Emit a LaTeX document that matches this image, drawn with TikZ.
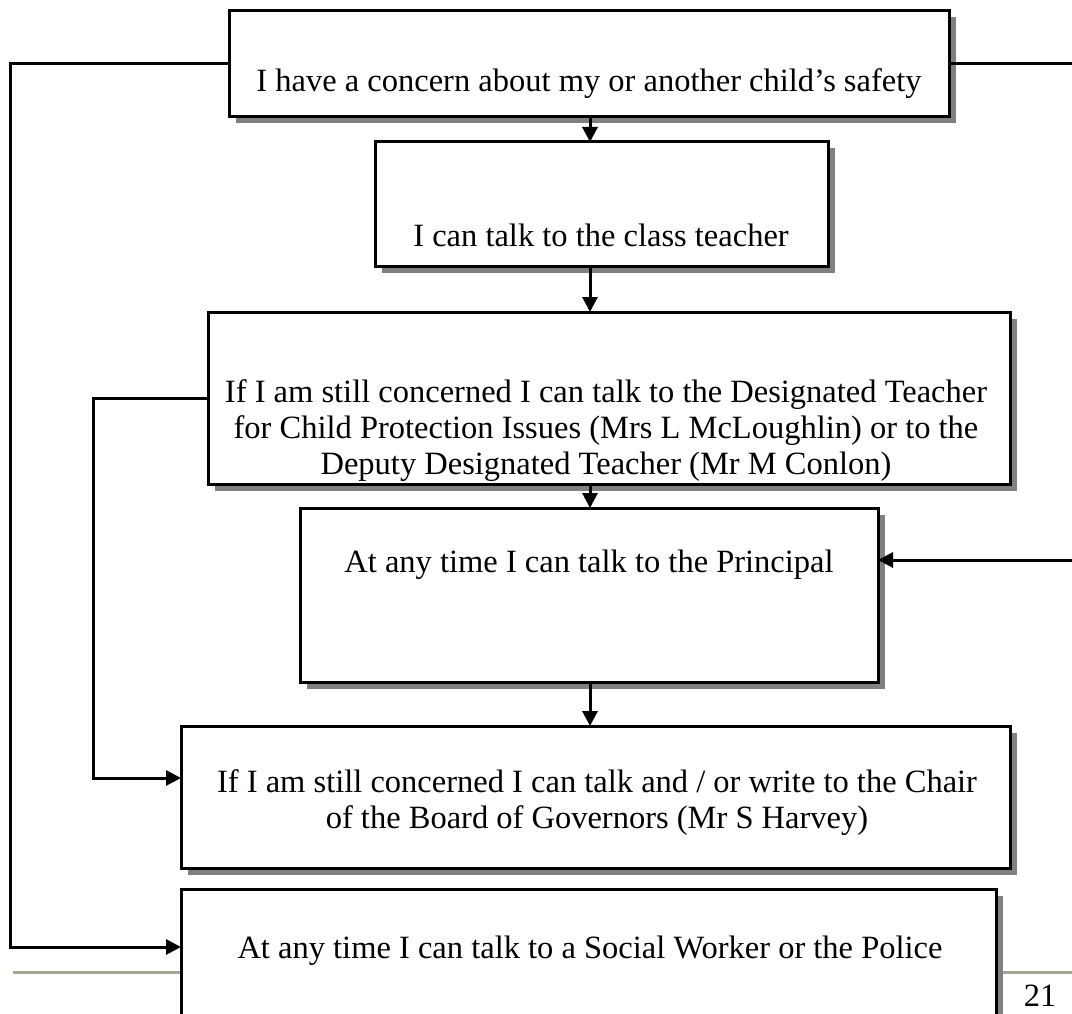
\documentclass[tikz,border=0pt]{standalone}
\usepackage{fontspec}
\setmainfont{Liberation Serif}
\usetikzlibrary{arrows.meta,shadows}
\definecolor{footer}{RGB}{166,166,150}
\definecolor{shade}{RGB}{128,128,128}
\begin{document}
\begin{tikzpicture}[x=1pt,y=-1pt,
  box/.style={draw, fill=white, line width=3pt, rectangle, inner sep=0pt, outer sep=0pt, anchor=north west,
    general shadow={fill=shade, shadow xshift=6.5pt, shadow yshift=-6.5pt}},
  txt/.style={font=\fontsize{32.5}{36}\selectfont, align=center, inner sep=0pt},
  conn/.style={line width=3pt},
  arr/.style={conn, -{Triangle[length=15pt,width=15pt]}}]
\useasboundingbox (0,0) rectangle (1072,1014);
\clip (0,0) rectangle (1072,1014);
% footer rule
\draw[line width=3pt, footer] (13,972) -- (1072,972);
% boxes
\node[box, minimum width=720pt, minimum height=106pt] (b1) at (229,11) {};
\node[box, minimum width=453pt, minimum height=124pt] (b2) at (375,142) {};
\node[box, minimum width=802pt, minimum height=172pt] (b3) at (208,312) {};
\node[box, minimum width=578pt, minimum height=174pt] (b4) at (300,508) {};
\node[box, minimum width=829pt, minimum height=142pt] (b5) at (181,726) {};
\node[box, minimum width=815pt, minimum height=180pt] (b6) at (181,889) {};
% texts
\node[txt] (t1) at (589,84) {I have a concern about my or another child’s safety};
\node[txt] (t2) at (601,235) {I can talk to the class teacher};
\node[txt] (t3) at (606,431) {If I am still concerned I can talk to the Designated Teacher\\for Child Protection Issues (Mrs L McLoughlin) or to the\\Deputy Designated Teacher (Mr M Conlon)};
\node[txt] (t4) at (589,565) {At any time I can talk to the Principal};
\node[txt] (t5) at (597,803) {If I am still concerned I can talk and / or write to the Chair\\of the Board of Governors (Mr S Harvey)};
\node[txt] (t6) at (590,951) {At any time I can talk to a Social Worker or the Police};
\node[txt, anchor=base] (pg) at (1040,1006) {21};
% vertical chain
\coordinate (X) at (590,0);
\draw[arr] (X |- b1.south) -- (X |- b2.north);
\draw[arr] (X |- b2.south) -- (X |- b3.north);
\draw[arr] (X |- b3.south) -- (X |- b4.north);
\draw[arr] (X |- b4.south) -- (X |- b5.north);
% outer left loop
\coordinate (L) at (10,947);
\draw[arr] (b1.west) -| (L) -- (L -| b6.west);
% outer right loop (vertical part lies just beyond the page edge)
\coordinate (R) at (1075,560);
\draw[arr] (b1.east) -| (R) -- (R -| b4.east);
% inner left loop
\coordinate (M) at (93,778);
\draw[arr] (b3.west) -| (M) -- (M -| b5.west);
\end{tikzpicture}
\end{document}
